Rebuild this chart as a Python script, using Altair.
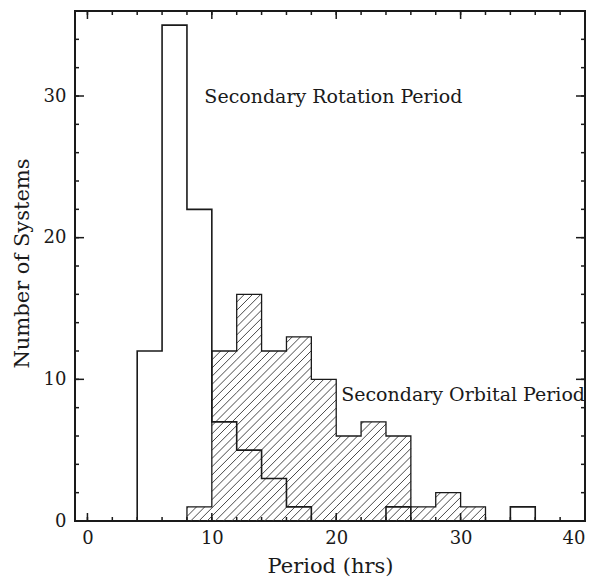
import altair as alt
import numpy as np
import pandas as pd

# ---- data ----
BIN_WIDTH = 2
rot_starts = [4, 6, 8, 10, 12, 14, 16, 18, 20, 22, 24, 26, 28, 30, 32, 34]
rot_counts = [12, 35, 22, 7, 5, 3, 1, 0, 0, 0, 1, 0, 0, 0, 0, 1]
orb_starts = [8, 10, 12, 14, 16, 18, 20, 22, 24, 26, 28, 30]
orb_counts = [1, 12, 16, 12, 13, 10, 6, 7, 6, 1, 2, 1]

x_major = [0, 10, 20, 30, 40]
x_minor = list(range(0, 41, 2))
y_major = [0, 10, 20, 30]
y_minor = list(range(0, 36, 2))

labels = ["Secondary Rotation Period", "Secondary Orbital Period"]
label_x = [9.4, 20.4]
label_y = [29.9, 8.9]

FONT = "DejaVu Serif"
INK = "#1a1a1a"


def outline(starts, counts):
    rows = []
    k = 0
    rows.append({"x": starts[0], "y": 0, "o": k}); k += 1
    for s, c in zip(starts, counts):
        rows.append({"x": s, "y": c, "o": k}); k += 1
        rows.append({"x": s + BIN_WIDTH, "y": c, "o": k}); k += 1
    rows.append({"x": starts[-1] + BIN_WIDTH, "y": 0, "o": k})
    return pd.DataFrame(rows)


def hatch(starts, counts, slope=0.88, step=0.66):
    segs = []
    hmax = max(counts)
    cmin = starts[0] - hmax / slope - step
    cmax = starts[-1] + BIN_WIDTH
    for c in np.arange(cmin, cmax, step):
        for s, h in zip(starts, counts):
            xa = max(s, c)
            xb = min(s + BIN_WIDTH, c + h / slope)
            if xb > xa:
                segs.append({"x": xa, "y": slope * (xa - c),
                             "x2": xb, "y2": slope * (xb - c)})
    return pd.DataFrame(segs)


rot_df = outline(rot_starts, rot_counts)
orb_df = outline(orb_starts, orb_counts)
hatch_df = hatch(orb_starts, orb_counts)
text_df = pd.DataFrame({"label": labels, "x": label_x, "y": label_y})

xscale = alt.Scale(domain=[-1, 40], nice=False, zero=False)
yscale = alt.Scale(domain=[0, 36], nice=False, zero=False)

x_axis = alt.Axis(values=x_major, ticks=False, domain=False, grid=False,
                  labelFont=FONT, labelFontSize=18, labelColor=INK, labelPadding=8,
                  title="Period (hrs)", titleFont=FONT, titleFontSize=21,
                  titleFontWeight="normal", titleColor=INK,
                  titleX=255, titleY=45, titleBaseline="middle", titleAlign="center")
y_axis = alt.Axis(values=y_major, ticks=False, domain=False, grid=False,
                  labelFont=FONT, labelFontSize=18, labelColor=INK, labelPadding=9,
                  title="Number of Systems", titleFont=FONT, titleFontSize=21,
                  titleFontWeight="normal", titleColor=INK, titleAngle=270,
                  titleX=-53, titleY=252, titleBaseline="middle", titleAlign="center")

X = alt.X("x:Q", scale=xscale, axis=x_axis)
Y = alt.Y("y:Q", scale=yscale, axis=y_axis)

hatch_layer = alt.Chart(hatch_df).mark_rule(color="#333", strokeWidth=0.9).encode(
    x=X, y=Y, x2="x2:Q", y2="y2:Q")

orb_line = alt.Chart(orb_df).mark_line(color=INK, strokeWidth=1.3).encode(
    x=X, y=Y, order="o:Q")
rot_line = alt.Chart(rot_df).mark_line(color=INK, strokeWidth=1.6).encode(
    x=X, y=Y, order="o:Q")

texts = alt.Chart(text_df).mark_text(font=FONT, fontSize=19, align="left",
                                     baseline="middle", color=INK).encode(
    x=X, y=Y, text="label:N")

xmaj = pd.DataFrame({"x": x_major})
xmin = pd.DataFrame({"x": x_minor})
ymaj = pd.DataFrame({"y": y_major})
ymin = pd.DataFrame({"y": y_minor})

TW = 1.5
tick_layers = [
    alt.Chart(xmaj).mark_rule(color=INK, strokeWidth=TW).encode(x=X, y=alt.value(510), y2=alt.value(502)),
    alt.Chart(xmin).mark_rule(color=INK, strokeWidth=TW).encode(x=X, y=alt.value(510), y2=alt.value(506)),
    alt.Chart(xmaj).mark_rule(color=INK, strokeWidth=TW).encode(x=X, y=alt.value(0), y2=alt.value(8)),
    alt.Chart(xmin).mark_rule(color=INK, strokeWidth=TW).encode(x=X, y=alt.value(0), y2=alt.value(4)),
    alt.Chart(ymaj).mark_rule(color=INK, strokeWidth=TW).encode(y=Y, x=alt.value(0), x2=alt.value(9)),
    alt.Chart(ymin).mark_rule(color=INK, strokeWidth=TW).encode(y=Y, x=alt.value(0), x2=alt.value(4)),
    alt.Chart(ymaj).mark_rule(color=INK, strokeWidth=TW).encode(y=Y, x=alt.value(510), x2=alt.value(501)),
    alt.Chart(ymin).mark_rule(color=INK, strokeWidth=TW).encode(y=Y, x=alt.value(510), x2=alt.value(506)),
]

chart = alt.layer(hatch_layer, orb_line, rot_line, texts, *tick_layers).properties(
    width=510, height=510,
    autosize=alt.AutoSizeParams(type="none"),
    padding={"left": 67, "top": 3, "right": 4, "bottom": 60},
).configure_view(stroke=INK, strokeWidth=2)

chart.save("out.html", embed_options={"renderer": "svg", "actions": False})
